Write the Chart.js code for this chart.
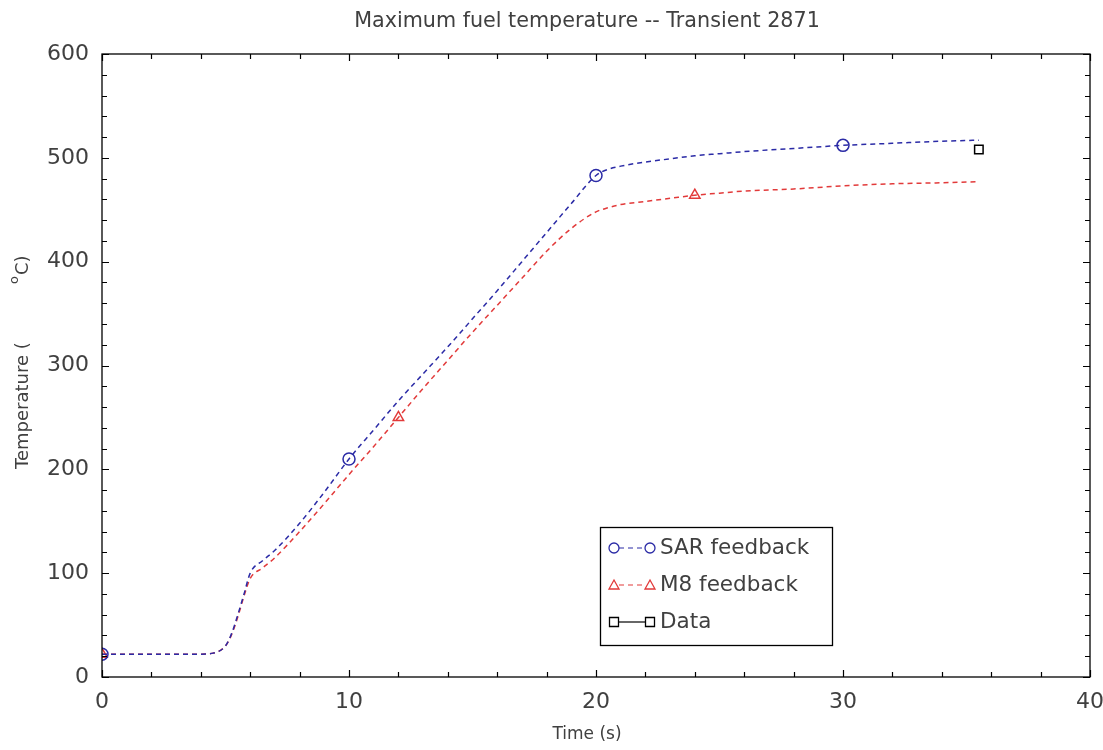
<!DOCTYPE html>
<html><head><meta charset="utf-8">
<script src="https://cdn.jsdelivr.net/npm/chart.js@4/dist/chart.umd.min.js"></script>
<style>html,body{margin:0;padding:0;background:#fff}#wrap{width:1103px;height:750px}</style>
</head><body><div id="wrap"><canvas id="c" width="1103" height="750"></canvas></div>
<script>
const titleText = "Maximum fuel temperature -- Transient 2871";
const xTitle = "Time (s)";
const yTitleMain = "Temperature (";
const yTitleSup = "o";
const yTitleEnd = "C)";
const xTicks = [0,10,20,30,40];
const yTicks = [0,100,200,300,400,500,600];
const time = [0,1,2,3,4,4.5,5,5.25,5.5,5.75,6,6.5,7,8,9,10,11,12,13,14,15,16,17,18,19,20,20.5,21,22,23,24,25,26,28,30,32,34,35.5];
const sar = [22,22,22,22,22,23,30,42,60,80,100,112,122,148,178,210,238,266,292,318,345,372,400,428,456,483,489,492,496,499,502,504,506,509,512,514,516,517];
const m8 = [22,22,22,22,22,23,30,41,58,78,95,105,115,140,167,195,222,250,278,305,332,358,384,410,432,448,452,455,458,461,464,466,468,470,473,475,476,477];
const sarMarkers = [0,10,20,30];
const m8Markers = [0,12,24];
const dataTime = [35.5];
const dataTemp = [508];
const seriesNames = ["SAR feedback","M8 feedback","Data"];

const FONT = "'DejaVu Sans', sans-serif";
const TXT = "#404040";
const BLUE = "#2b2ba6", RED = "#e23a3a";

function pts(xs, ys){ return xs.map((x,i)=>({x:x,y:ys[i]})); }

function drawMarker(ctx,m,x,y,c){
  ctx.save(); ctx.strokeStyle=c; ctx.lineWidth=1.3; ctx.beginPath();
  if(m==='circle'){ ctx.arc(x,y,5,0,Math.PI*2); }
  else if(m==='triangle'){ ctx.moveTo(x,y-5); ctx.lineTo(x+5,y+4); ctx.lineTo(x-5,y+4); ctx.closePath(); }
  else { ctx.rect(x-4.5,y-4.5,9,9); }
  ctx.stroke(); ctx.restore();
}

const framePlugin = {
  id:'frame',
  afterDraw(chart){
    const ctx = chart.ctx, a = chart.chartArea;
    const xs = chart.scales.x, ys = chart.scales.y;
    ctx.save();
    ctx.strokeStyle = '#000'; ctx.lineWidth = 1.3;
    ctx.strokeRect(a.left, a.top, a.right-a.left, a.bottom-a.top);
    ctx.lineWidth = 1.2;
    ctx.beginPath();
    for(let v=0; v<=40; v+=2){
      const p = Math.round(xs.getPixelForValue(v))+0.5;
      const L = (v%10===0)?7:5;
      ctx.moveTo(p,a.bottom); ctx.lineTo(p,a.bottom-L);
      ctx.moveTo(p,a.top); ctx.lineTo(p,a.top+L);
    }
    for(let v=0; v<=600; v+=20){
      const p = Math.round(ys.getPixelForValue(v))+0.5;
      const L = (v%100===0)?7:5;
      ctx.moveTo(a.left,p); ctx.lineTo(a.left+L,p);
      ctx.moveTo(a.right,p); ctx.lineTo(a.right-L,p);
    }
    ctx.stroke();
    // title
    ctx.fillStyle = TXT; ctx.font = "20.7px " + FONT;
    ctx.textAlign = 'center'; ctx.textBaseline = 'middle';
    ctx.fillText(titleText, 587, 22);
    // x title
    ctx.font = "17px " + FONT;
    ctx.fillText(xTitle, 587, 735);
    // y title (rotated)
    ctx.save();
    ctx.translate(23, 0); ctx.rotate(-Math.PI/2);
    ctx.textAlign='left'; ctx.font = "18px " + FONT;
    ctx.fillText(yTitleMain, -469, 0);
    ctx.font = "13px " + FONT;
    ctx.fillText(yTitleSup, -284, -8);
    ctx.font = "18px " + FONT;
    ctx.fillText(yTitleEnd, -275, 0);
    ctx.restore();
    // legend
    const bx=600, by=527, bw=232, bh=118;
    ctx.fillStyle='#fff'; ctx.fillRect(bx,by,bw,bh);
    ctx.strokeStyle='#000'; ctx.lineWidth=1.3; ctx.strokeRect(bx+0.5,by+0.5,bw,bh);
    const rows=[{y:548,c:BLUE,dash:[5,4],m:'circle'},{y:585,c:RED,dash:[5,4],m:'triangle'},{y:622,c:'#000',dash:[],m:'rect'}];
    rows.forEach((r,i)=>{
      ctx.strokeStyle=r.c; ctx.lineWidth=1.2; ctx.setLineDash(r.dash);
      ctx.beginPath(); ctx.moveTo(619,r.y); ctx.lineTo(645,r.y); ctx.stroke();
      ctx.setLineDash([]);
      [614,650].forEach(mx=>drawMarker(ctx,r.m,mx,r.y,r.c));
      ctx.fillStyle=TXT; ctx.font="21.5px "+FONT; ctx.textAlign='left'; ctx.textBaseline='middle';
      ctx.fillText(seriesNames[i], 660, r.y);
    });
    ctx.restore();
  }
};

new Chart(document.getElementById('c'), {
  type:'line',
  data:{ datasets:[
    { label:seriesNames[0], data:pts(time,sar), borderColor:BLUE, borderWidth:1.5, borderDash:[5,4], fill:false,
      pointStyle:'circle', backgroundColor:'rgba(0,0,0,0)', pointBorderColor:BLUE, pointBorderWidth:1.5,
      pointRadius:ctx=>sarMarkers.includes(time[ctx.dataIndex])?6:0, cubicInterpolationMode:'monotone' },
    { label:seriesNames[1], data:pts(time,m8), borderColor:RED, borderWidth:1.5, borderDash:[5,4], fill:false,
      pointStyle:'triangle', backgroundColor:'rgba(0,0,0,0)', pointBorderColor:RED, pointBorderWidth:1.5,
      pointRadius:ctx=>m8Markers.includes(time[ctx.dataIndex])?6:0, cubicInterpolationMode:'monotone' },
    { label:seriesNames[2], data:pts(dataTime,dataTemp), borderColor:'#000', borderWidth:1.2, showLine:false,
      pointStyle:'rect', backgroundColor:'rgba(0,0,0,0)', pointBorderColor:'#000', pointBorderWidth:1.5, pointRadius:6 }
  ]},
  options:{
    responsive:false, animation:false, devicePixelRatio:1,
    layout:{padding:{left:0,right:13,top:54,bottom:0}},
    plugins:{legend:{display:false}, title:{display:false}, tooltip:{enabled:false}},
    elements:{line:{tension:0}},
    scales:{
      x:{ type:'linear', min:0, max:40, afterBuildTicks:s=>{s.ticks=xTicks.map(v=>({value:v}));},
          grid:{display:false}, border:{display:false},
          ticks:{font:{family:FONT,size:22}, color:TXT, padding:4, maxRotation:0},
          afterFit:s=>{s.height=73; s.paddingLeft=0; s.paddingRight=0;} },
      y:{ min:0, max:600, afterBuildTicks:s=>{s.ticks=yTicks.map(v=>({value:v}));},
          grid:{display:false}, border:{display:false},
          ticks:{font:{family:FONT,size:22}, color:TXT, padding:5},
          afterFit:s=>{s.width=102; s.paddingTop=0; s.paddingBottom=0;} }
    }
  },
  plugins:[framePlugin]
});
</script></body></html>
